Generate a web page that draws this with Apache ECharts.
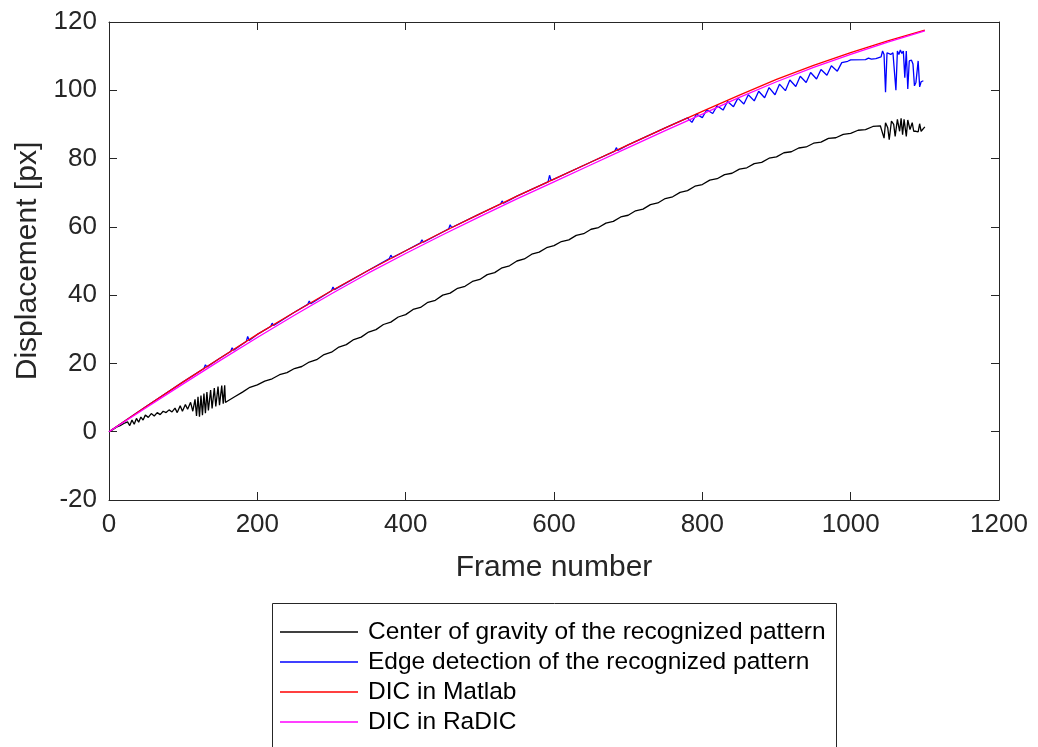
<!DOCTYPE html>
<html>
<head>
<meta charset="utf-8">
<title>Displacement vs frame number</title>
<script src="https://cdn.jsdelivr.net/npm/echarts@6/dist/echarts.min.js"></script>
<style>
  html, body { margin: 0; padding: 0; background: #ffffff; }
  #chart { width: 1038px; height: 747px; }
</style>
</head>
<body>
<div id="chart"></div>
<script>
// Series names as shown in the legend
const seriesNames = [
  'Center of gravity of the recognized pattern',
  'Edge detection of the recognized pattern',
  'DIC in Matlab',
  'DIC in RaDIC'
];

// Axis ranges and tick spacing
const xRange = [0, 1200];
const xStep = 200;
const yRange = [-20, 120];
const yStep = 20;

// [frame, displacement px] — centre of gravity of the recognized pattern
const centerOfGravity = [
  [0,0],[5,0.6],[10,1.3],[15,1.8],[20,2.4],[25,2.9],[28,1.8],[31,3.4],[34,2.2],[37,3.9],
  [40,2.8],[43,4.3],[46,3.4],[49,4.9],[53,4.2],[57,5.3],[61,4.6],[65,5.6],[69,5.0],[73,6.0],
  [77,5.6],[81,6.4],[85,5.8],[89,6.9],[92,5.6],[96,7.6],[99,6.0],[103,8.0],[106,6.6],[110,8.6],
  [113,6.0],[116,9.5],[118,4.6],[120,10.2],[122,4.4],[124,10.6],[126,4.8],[128,11.2],[130,5.4],
  [132,11.6],[134,6.2],[137,12.2],[139,6.8],[142,12.8],[144,7.4],[147,13.2],[149,7.8],[152,13.5],
  [154,8.2],[156,13.6],[157,8.6],[160,9.0],[170,10.3],[180,11.6],[190,13.0],[200,13.7],
  [210,14.8],[220,15.5],[230,16.7],[240,17.3],[250,18.5],[260,19.1],[270,20.4],[280,21.1],
  [290,22.6],[300,23.3],[310,24.8],[320,25.5],[330,27.0],[340,27.7],[350,29.2],[360,29.9],
  [370,31.4],[380,32.1],[390,33.6],[400,34.3],[410,35.8],[420,36.4],[430,37.9],[440,38.5],
  [450,40.0],[460,40.6],[470,42.0],[480,42.6],[490,44.0],[500,44.6],[510,46.0],[520,46.6],
  [530,48.0],[540,48.6],[550,50.0],[560,50.6],[570,52.0],[580,52.6],[590,53.9],[600,54.5],
  [610,55.7],[620,56.2],[630,57.5],[640,58.0],[650,59.3],[660,59.8],[670,61.1],[680,61.6],
  [690,62.9],[700,63.4],[710,64.7],[720,65.2],[730,66.5],[740,67.0],[750,68.3],[760,68.8],
  [770,70.1],[780,70.6],[790,71.9],[800,72.4],[810,73.7],[820,74.1],[830,75.3],[840,75.7],
  [850,76.9],[860,77.3],[870,78.5],[880,78.9],[890,80.1],[900,80.5],[910,81.7],[920,82.0],
  [930,83.1],[940,83.4],[950,84.5],[960,84.8],[970,85.9],[980,86.1],[990,87.1],[1000,87.4],
  [1010,88.3],[1020,88.5],[1030,89.4],[1040,89.6],[1042,90.0],[1045,86.0],[1047,90.5],
  [1050,89.0],[1052,85.5],[1055,91.0],[1058,90.0],[1060,86.5],[1063,91.5],[1066,88.0],
  [1068,91.8],[1070,87.0],[1072,91.5],[1075,86.5],[1077,91.3],[1080,88.5],[1083,90.5],
  [1085,88.0],[1088,88.0],[1091,87.8],[1093,90.2],[1095,88.0],[1097,88.5],[1100,89.3]
];

// [frame, displacement px] — edge detection of the recognized pattern
const edgeDetection = [
  [0,0],[50,7.4],[100,14.6],[128,18.5],[130,19.6],[132,19.0],[150,21.6],[164,23.5],[166,24.6],
  [168,23.9],[185,26.4],[187,27.9],[189,26.7],[200,28.5],[218,30.8],[220,31.8],[222,31.1],
  [250,35.0],[268,37.3],[270,38.3],[272,37.5],[300,41.3],[302,42.4],[304,41.6],[350,47.3],
  [378,50.7],[380,51.7],[382,51.0],[400,53.0],[420,55.3],[422,56.2],[424,55.5],[450,58.5],
  [458,59.4],[460,60.6],[462,59.8],[500,63.8],[528,66.7],[530,67.6],[532,66.9],[550,69.0],
  [592,73.2],[594,75.1],[596,73.6],[600,74.0],[650,79.0],[682,82.2],[684,83.2],[686,82.4],
  [700,84.0],[750,89.0],[780,91.9],[786,90.6],[792,93.0],[800,92.0],
  [806,94.3],[814,93.2],[820,95.5],[828,94.2],[834,96.7],[842,95.2],[848,97.7],[856,96.0],
  [862,98.7],[870,96.9],[876,99.7],[884,97.8],[890,100.8],[898,98.7],[904,101.8],[912,99.9],
  [918,103.0],[926,101.1],[932,104.1],[940,102.3],[946,105.2],[954,103.3],[960,106.1],
  [968,104.4],[974,107.2],[982,105.6],[988,108.1],[996,108.5],[1000,108.9],[1020,109.0],
  [1024,109.4],[1028,109.1],[1034,109.3],[1036,109.8],[1041,109.8],[1043,111.5],[1045,110.5],
  [1047,99.4],[1049,111.0],[1051,111.5],[1054,110.5],[1057,111.0],[1059,110.8],[1061,100.0],
  [1063,111.5],[1065,110.5],[1067,111.8],[1069,110.8],[1071,111.5],[1073,103.7],[1075,111.5],
  [1077,100.4],[1079,108.6],[1082,108.8],[1084,107.7],[1086,101.3],[1088,102.3],[1090,102.0],
  [1091,108.6],[1093,101.0],[1095,102.5],[1098,102.8]
];

// [frame, displacement px] — DIC computed in Matlab
const dicMatlab = [
  [0,0],[50,7.4],[100,14.6],[150,21.6],[200,28.5],[250,35.0],[300,41.3],[350,47.3],
  [400,53.0],[450,58.5],[500,63.8],[550,69.0],[600,74.0],[650,79.0],[700,84.0],[750,89.0],
  [800,93.8],[850,98.6],[900,103.2],[950,107.3],[1000,111.0],[1050,114.5],[1100,117.6]
];

// [frame, displacement px] — DIC computed in RaDIC
const dicRaDIC = [
  [0,0],[50,7.0],[100,14.0],[150,20.9],[200,27.6],[250,34.1],[300,40.4],[350,46.5],
  [400,52.2],[450,57.7],[500,63.0],[550,68.2],[600,73.2],[650,78.2],[700,83.2],[750,88.2],
  [800,93.0],[850,97.9],[900,102.5],[950,106.7],[1000,110.5],[1050,114.1],[1100,117.4]
];

const seriesData = [centerOfGravity, edgeDetection, dicMatlab, dicRaDIC];
const seriesColors = ['#000000', '#0000ff', '#ff0000', '#ff00ff'];

const FONT = "'Liberation Sans', Arial, Helvetica, sans-serif";
const AXIS_COLOR = '#262626';

const chart = echarts.init(document.getElementById('chart'), null, { renderer: 'canvas' });

const frameAxis = (pos, showLabels) => ({
  type: 'value',
  position: pos,
  min: xRange[0], max: xRange[1], interval: xStep,
  name: showLabels ? 'Frame number' : '',
  nameLocation: 'middle',
  nameGap: 68,
  nameTextStyle: { fontFamily: FONT, fontSize: 30, color: AXIS_COLOR, verticalAlign: 'middle' },
  axisLine: { show: true, onZero: false, lineStyle: { color: AXIS_COLOR, width: 1 } },
  axisTick: { show: true, inside: true, length: 8, lineStyle: { color: AXIS_COLOR } },
  axisLabel: {
    show: showLabels, margin: 12, fontFamily: FONT, fontSize: 26, color: AXIS_COLOR,
    formatter: v => String(v)
  },
  splitLine: { show: false }
});

const dispAxis = (pos, showLabels) => ({
  type: 'value',
  position: pos,
  min: yRange[0], max: yRange[1], interval: yStep,
  name: showLabels ? 'Displacement [px]' : '',
  nameLocation: 'middle',
  nameGap: 79,
  nameRotate: 90,
  nameTextStyle: { fontFamily: FONT, fontSize: 30, color: AXIS_COLOR, verticalAlign: 'middle' },
  axisLine: { show: true, onZero: false, lineStyle: { color: AXIS_COLOR, width: 1 } },
  axisTick: { show: true, inside: true, length: 8, lineStyle: { color: AXIS_COLOR } },
  axisLabel: {
    show: showLabels, margin: 12, fontFamily: FONT, fontSize: 26, color: AXIS_COLOR,
    formatter: v => String(v)
  },
  splitLine: { show: false }
});

chart.setOption({
  animation: false,
  backgroundColor: '#ffffff',
  grid: { left: 109, right: 39, top: 22, bottom: 247, containLabel: false, outerBoundsMode: 'none' },
  xAxis: [frameAxis('bottom', true), frameAxis('top', false)],
  yAxis: [dispAxis('left', true), dispAxis('right', false)],
  // legend frame; its lower edge runs past the bottom of the canvas
  graphic: [{
    type: 'rect',
    left: 272,
    top: 603,
    shape: { width: 564, height: 170 },
    style: { fill: '#ffffff', stroke: AXIS_COLOR, lineWidth: 1 },
    z: 0
  }],
  legend: {
    orient: 'vertical',
    left: 272,
    top: 603,
    padding: [14, 8, 0, 8],
    itemGap: 0,
    itemWidth: 78,
    itemHeight: 1.4,
    icon: 'rect',
    data: seriesNames,
    z: 5,
    textStyle: {
      fontFamily: FONT, fontSize: 24.5, color: '#000000',
      lineHeight: 30, padding: [0, 0, 0, 5]
    }
  },
  series: seriesNames.map((name, i) => ({
    name: name,
    type: 'line',
    xAxisIndex: 0,
    yAxisIndex: 0,
    data: seriesData[i],
    symbol: 'none',
    showSymbol: false,
    smooth: false,
    color: seriesColors[i],
    lineStyle: { color: seriesColors[i], width: 1.3 },
    emphasis: { disabled: true }
  }))
});
</script>
</body>
</html>
